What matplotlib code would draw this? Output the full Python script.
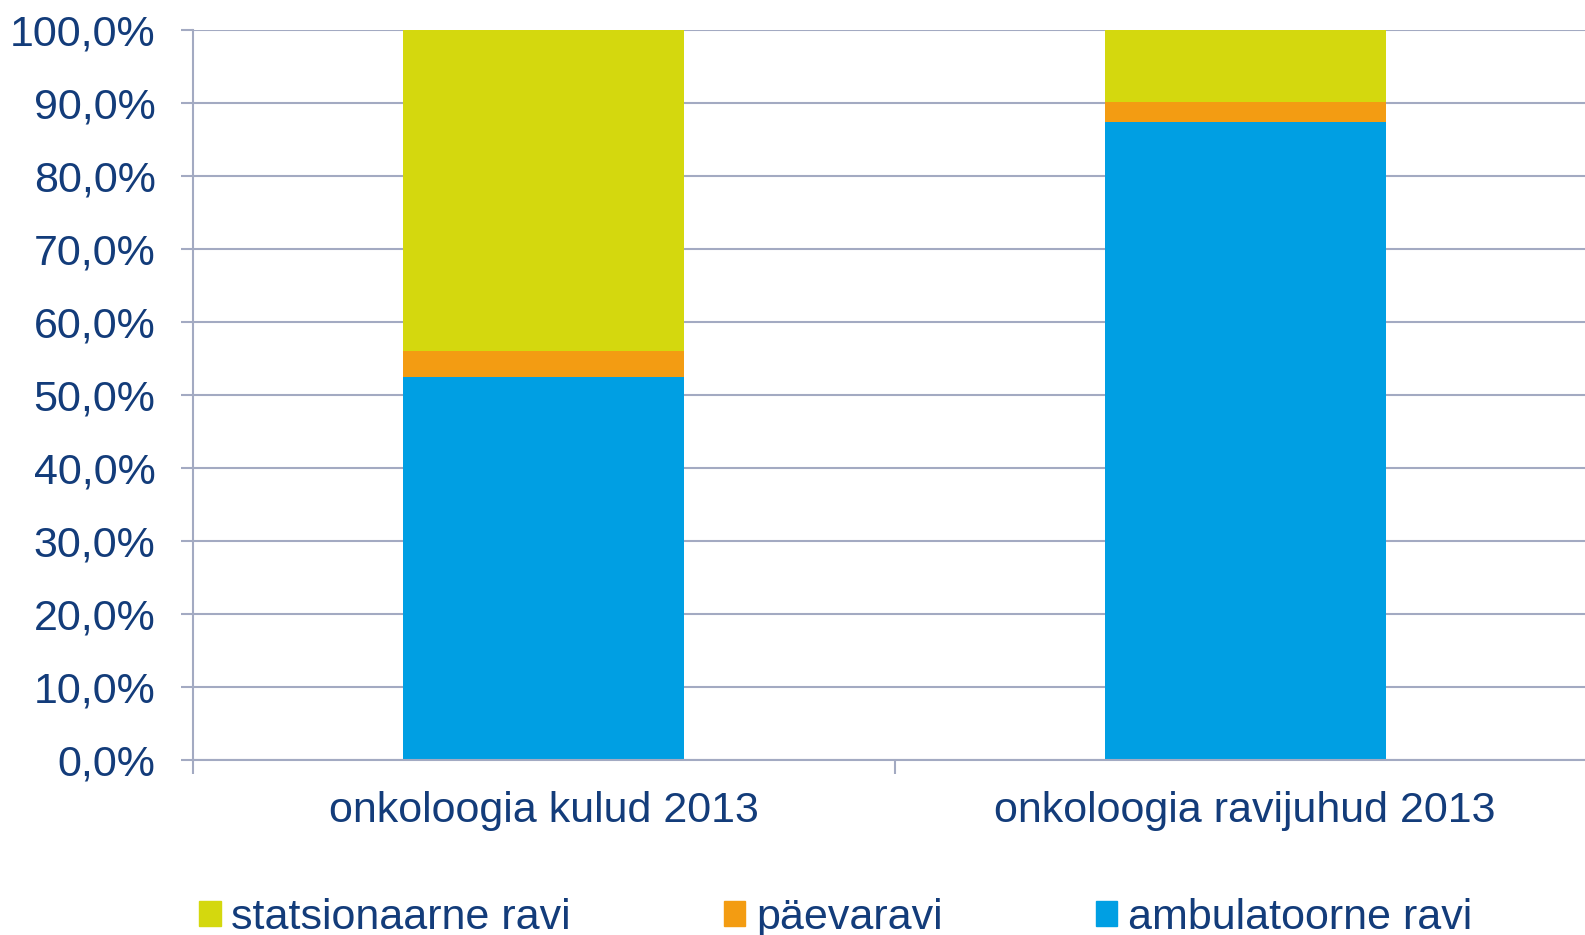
import numpy as np
import matplotlib.pyplot as plt
from matplotlib.patches import Patch

# categories and shares (%)
categories = ['onkoloogia kulud 2013', 'onkoloogia ravijuhud 2013']
ambulatoorne = [52.4, 87.4]
paevaravi = [3.6, 2.8]
statsionaarne = [44.0, 9.8]
series_names = ['statsionaarne ravi', 'päevaravi', 'ambulatoorne ravi']
yticks = np.arange(0, 101, 10)

c_amb = '#009FE3'
c_pae = '#F39C12'
c_sta = '#D4D80E'
txt = '#133C7A'
grid_c = '#A3AAC2'

plt.rcParams['font.family'] = ['Liberation Sans', 'DejaVu Sans']

fig = plt.figure(figsize=(15.85, 9.35), dpi=100)
ax = fig.add_axes([193 / 1585, 1 - 760 / 935, 1403 / 1585, 730 / 935])

x = np.arange(len(categories))
w = 0.40
amb = np.array(ambulatoorne)
pae = np.array(paevaravi)
sta = np.array(statsionaarne)
ax.bar(x, amb, w, color=c_amb, zorder=2)
ax.bar(x, pae, w, bottom=amb, color=c_pae, zorder=2)
ax.bar(x, sta, w, bottom=amb + pae, color=c_sta, zorder=2)

ax.set_xlim(-0.5, 1.5)
ax.set_ylim(0, 100)
ax.set_yticks(yticks)
ax.set_yticklabels(['%d,0%%' % v for v in yticks])
ax.yaxis.grid(True, color=grid_c, linewidth=1.5, zorder=0)
ax.set_axisbelow(True)

ax.set_xticks([-0.5, 0.5, 1.5])
ax.set_xticklabels(['', '', ''])
ax.set_xticks(x, minor=True)
ax.set_xticklabels(categories, minor=True)
ax.tick_params(axis='x', which='major', length=10, width=1.5, color=grid_c)
ax.tick_params(axis='x', which='minor', length=0, pad=22, labelsize=31, labelcolor=txt)
ax.tick_params(axis='y', length=9, width=1.5, color=grid_c, pad=18, labelsize=31, labelcolor=txt)

for s in ['top', 'right']:
    ax.spines[s].set_visible(False)
for s in ['left', 'bottom']:
    ax.spines[s].set_color(grid_c)
    ax.spines[s].set_linewidth(1.5)

handles = [Patch(color=c_sta), Patch(color=c_pae), Patch(color=c_amb)]
fig.legend(handles, series_names, loc='center left', bbox_to_anchor=(199 / 1585, 1 - 918 / 935),
           ncol=3, frameon=False, fontsize=31, labelcolor=txt,
           handlelength=0.5, handleheight=0.5, handletextpad=0.25,
           columnspacing=3.55, borderpad=0, borderaxespad=0)

fig.savefig('out.png', dpi=100)
